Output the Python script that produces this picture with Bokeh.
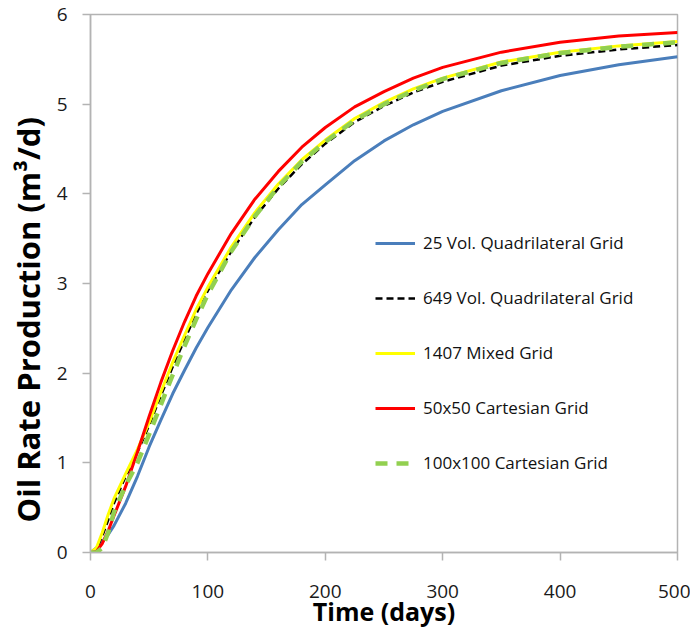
from bokeh.plotting import figure
from bokeh.models import Range1d, FixedTicker, Legend, LegendItem, Title
from bokeh.embed import file_html
from bokeh.resources import INLINE

# ---- data ----
days = [0, 5, 10, 15, 20, 30, 40, 50, 60, 70, 80, 90, 100, 120, 140, 160, 180,
        200, 225, 250, 275, 300, 350, 400, 450, 500]

quad_25 = [0.0, 0.05, 0.12, 0.2, 0.3, 0.55, 0.85, 1.18, 1.48, 1.77, 2.03, 2.28,
           2.51, 2.93, 3.29, 3.6, 3.88, 4.1, 4.37, 4.59, 4.77, 4.92, 5.15, 5.32,
           5.44, 5.53]
quad_649 = [0.0, 0.04, 0.18, 0.36, 0.55, 0.85, 1.12, 1.42, 1.75, 2.07, 2.37,
            2.66, 2.92, 3.36, 3.74, 4.06, 4.33, 4.56, 4.8, 4.98, 5.13, 5.25,
            5.43, 5.54, 5.61, 5.66]
mixed_1407 = [0.0, 0.05, 0.22, 0.42, 0.6, 0.88, 1.15, 1.45, 1.79, 2.12, 2.42,
              2.71, 2.96, 3.41, 3.79, 4.11, 4.38, 4.6, 4.84, 5.02, 5.17, 5.29,
              5.47, 5.58, 5.65, 5.7]
cart_50 = [0.0, 0.01, 0.1, 0.24, 0.41, 0.74, 1.12, 1.52, 1.9, 2.25, 2.57, 2.86,
           3.11, 3.56, 3.94, 4.25, 4.52, 4.74, 4.97, 5.14, 5.29, 5.41, 5.58,
           5.69, 5.76, 5.8]
cart_100 = [0.0, 0.0, 0.05, 0.22, 0.45, 0.75, 1.0, 1.32, 1.65, 1.98, 2.3, 2.6,
            2.88, 3.36, 3.75, 4.08, 4.36, 4.58, 4.82, 5.0, 5.15, 5.28, 5.46,
            5.57, 5.64, 5.69]

names = ["25 Vol. Quadrilateral Grid", "649 Vol. Quadrilateral Grid",
         "1407 Mixed Grid", "50x50 Cartesian Grid", "100x100 Cartesian Grid"]
x_ticks = [0, 100, 200, 300, 400, 500]
y_ticks = [0, 1, 2, 3, 4, 5, 6]
x_title = "Time (days)"
y_title = "Oil Rate Production (m³/d)"

FONT = "Open Sans"

p = figure(width=690, height=634, output_backend="svg", toolbar_location=None,
           x_range=Range1d(0, 500), y_range=Range1d(0, 6),
           min_border_left=90, min_border_right=13, min_border_top=14,
           min_border_bottom=82)
p.background_fill_color = "white"
p.border_fill_color = "white"
p.outline_line_color = "#B3B3B3"
p.outline_line_width = 1.5
p.xgrid.visible = False
p.ygrid.visible = False

styles = [
    dict(line_color="#4A7EBB", line_width=3),
    dict(line_color="#000000", line_width=2.5, line_dash="7 4"),
    dict(line_color="#FFFF00", line_width=3),
    dict(line_color="#FF0000", line_width=3),
    dict(line_color="#92D050", line_width=4.5, line_dash="12 9"),
]
series = [quad_25, quad_649, mixed_1407, cart_50, cart_100]
renderers = []
for ys, st in zip(series, styles):
    r = p.line(days, ys, line_join="round", **st)
    renderers.append(r)

legend = Legend(items=[LegendItem(label=n, renderers=[r]) for n, r in zip(names, renderers)],
                location=(285, 78), padding=0, margin=0, spacing=32,
                glyph_width=40, glyph_height=20, label_height=20,
                label_standoff=8, border_line_color=None,
                background_fill_alpha=0, label_text_font=FONT,
                label_text_font_size="17px", label_text_color="#111111")
p.add_layout(legend, "center")

for ax in (p.xaxis[0], p.yaxis[0]):
    ax.axis_line_color = "#B3B3B3"
    ax.axis_line_width = 1.5
    ax.major_tick_line_color = "#B3B3B3"
    ax.major_tick_line_width = 1.5
    ax.major_tick_in = 0
    ax.major_tick_out = 8
    ax.minor_tick_line_color = None
    ax.major_label_text_font = FONT
    ax.major_label_text_font_size = "19px"
    ax.major_label_text_color = "#1a1a1a"
    ax.axis_label_text_font = FONT
    ax.axis_label_text_font_style = "bold"
    ax.axis_label_text_font_size = "25px"
    ax.axis_label_text_color = "#000000"

p.xaxis.ticker = FixedTicker(ticks=x_ticks)
p.yaxis.ticker = FixedTicker(ticks=y_ticks)
p.xaxis.axis_label = x_title
p.xaxis.major_label_standoff = 24
p.xaxis.axis_label_standoff = -7
p.yaxis.major_label_standoff = 15

ytitle = Title(text=y_title, align="left", offset=30, standoff=9,
               text_font=FONT, text_font_style="bold", text_font_size="31px",
               text_color="#000000")
p.add_layout(ytitle, "left")

open("out.html", "w").write(file_html(p, INLINE))
